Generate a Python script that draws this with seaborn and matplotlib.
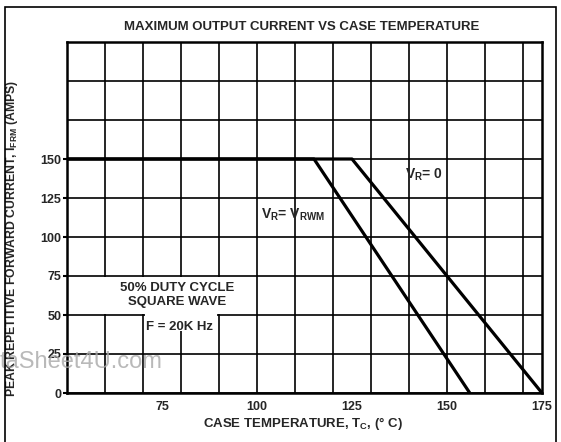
import pandas as pd
import matplotlib
matplotlib.use("Agg")
import matplotlib.pyplot as plt
import seaborn as sns
from matplotlib.patches import Rectangle
from matplotlib.ticker import MultipleLocator, FixedLocator

# curva V_R = V_RWM
temp_rwm = [50, 115, 156]
amps_rwm = [150, 150, 0]
# curva V_R = 0
temp_r0 = [50, 125, 175]
amps_r0 = [150, 150, 0]

x_ticks = [75, 100, 125, 150, 175]
y_ticks = [0, 25, 50, 75, 100, 125, 150]

sns.set_theme(style="white")
plt.rcParams['font.family'] = ['Liberation Sans', 'DejaVu Sans']
plt.rcParams['font.weight'] = 'bold'
plt.rcParams['mathtext.fontset'] = 'custom'
plt.rcParams['mathtext.rm'] = 'Liberation Sans:bold'
plt.rcParams['mathtext.it'] = 'Liberation Sans:bold'
plt.rcParams['mathtext.bf'] = 'Liberation Sans:bold'
plt.rcParams['mathtext.default'] = 'bf'

df = pd.concat([
    pd.DataFrame({'temp': temp_rwm, 'amps': amps_rwm, 'curve': 'rwm'}),
    pd.DataFrame({'temp': temp_r0, 'amps': amps_r0, 'curve': 'r0'}),
], ignore_index=True)

fig = plt.figure(figsize=(5.61, 4.42), dpi=100)
ax = fig.add_axes([67 / 561, 49 / 442, 475 / 561, 351 / 442])

sns.lineplot(data=df, x='temp', y='amps', hue='curve', palette=['black', 'black'],
             sort=False, estimator=None, legend=False, linewidth=2.3, ax=ax,
             solid_capstyle='butt', zorder=2)

ax.set_xlim(50, 175)
ax.set_ylim(0, 225)
ax.xaxis.set_major_locator(FixedLocator(x_ticks))
ax.yaxis.set_major_locator(FixedLocator(y_ticks))
ax.xaxis.set_minor_locator(MultipleLocator(10))
ax.yaxis.set_minor_locator(MultipleLocator(25))
ax.xaxis.remove_overlapping_locs = False
ax.yaxis.remove_overlapping_locs = False
ax.set_axisbelow(True)
ax.grid(False, which='major')
ax.grid(True, which='minor', color='black', linewidth=1.2)
ax.tick_params(which='minor', length=0)
ax.tick_params(axis='y', which='major', length=3, width=1.5, color='black', pad=1,
               labelsize=9, left=True)
ax.tick_params(axis='x', which='major', length=0, pad=6, labelsize=9)
for lab in ax.get_xticklabels() + ax.get_yticklabels():
    lab.set_fontweight('bold')
for sp in ax.spines.values():
    sp.set_color('black')
    sp.set_linewidth(1.8)
    sp.set_zorder(5)

# zonas en blanco bajo el texto
ax.add_patch(Rectangle((50.6, 50.8), 49.0, 23.4, facecolor='white', edgecolor='none', zorder=1))
ax.add_patch(Rectangle((70.4, 40), 19.2, 34.2, facecolor='white', edgecolor='none', zorder=1))

ax.text(79, 63, "50% DUTY CYCLE\nSQUARE WAVE", ha='center', va='center',
        fontsize=9.5, fontweight='bold', linespacing=1.25, zorder=3)
ax.text(79.5, 42.5, "F = 20K Hz", ha='center', va='center', fontsize=9.5,
        fontweight='bold', zorder=3)
ax.text(101, 114, "V$_R$= V$_{RWM}$", ha='left', va='center', fontsize=10, zorder=3)
ax.text(139, 140, "V$_R$= 0", ha='left', va='center', fontsize=10, zorder=3)

ax.set_xlabel("CASE TEMPERATURE, T$_C$, (° C)", fontsize=9.5, fontweight='bold')
ax.set_ylabel("PEAK REPETITIVE FORWARD CURRENT, I$_{FRM}$ (AMPS)", fontsize=8.8,
              fontweight='bold')
ax.xaxis.set_label_coords(0.497, -0.063)
ax.yaxis.set_label_coords(-0.099, 0.44)

fig.text(302 / 561, 1 - 27 / 442, "MAXIMUM OUTPUT CURRENT VS CASE TEMPERATURE",
         ha='center', va='center', fontsize=9.5, fontweight='bold')

# marca de agua
fig.text(0.0, 1 - 362 / 442, "taSheet4U.com", ha='left', va='center',
         fontsize=17, fontweight='normal', color='#a8a8a8', alpha=0.8, zorder=0)

fig.patches.append(Rectangle((5 / 561, -0.05), 551 / 561, 1.05 - 7 / 442,
                             transform=fig.transFigure, fill=False,
                             edgecolor='black', linewidth=1.2))

plt.savefig('out.png', dpi=100)
